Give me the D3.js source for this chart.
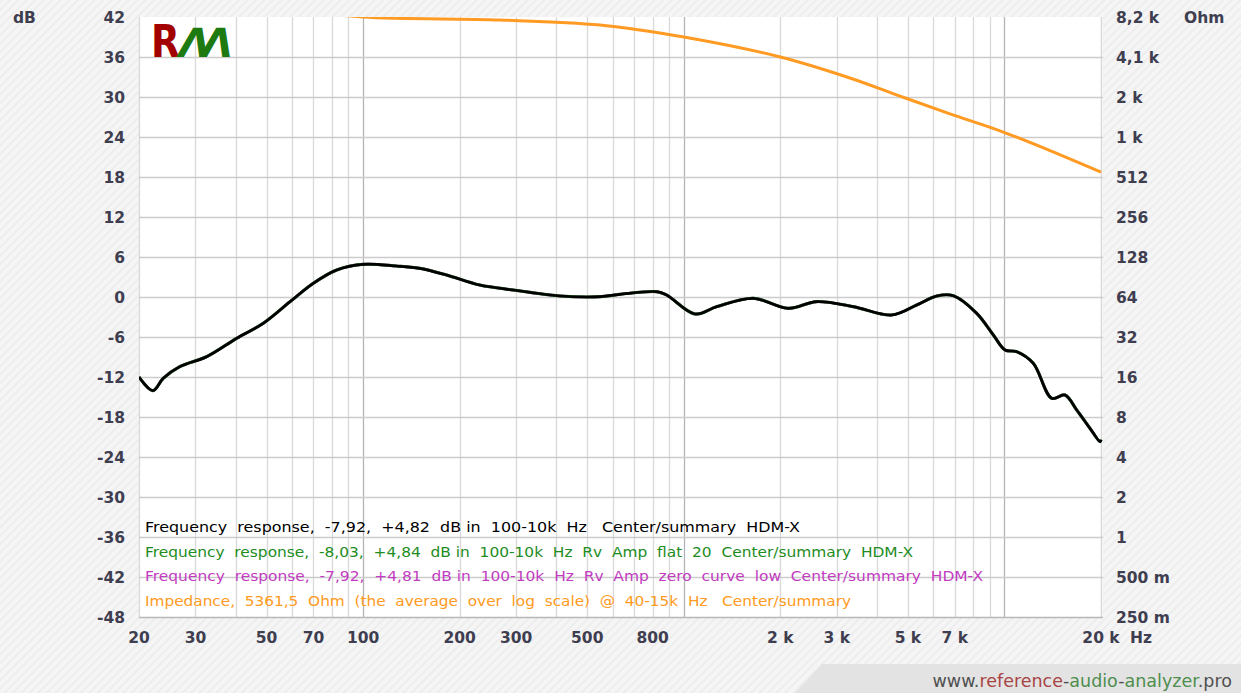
<!DOCTYPE html>
<html><head><meta charset="utf-8">
<script src="https://cdn.jsdelivr.net/npm/d3@7"></script>
<style>
html,body{margin:0;padding:0;background:#f3f3f3;}
svg{display:block;}
text{white-space:pre;}
</style></head>
<body>
<svg id="chart" width="1241" height="693"></svg>
<script>
// ---- data ----
const frFreq = [20, 22.1, 23.8, 26.8, 32.5, 40.3, 48.8, 59.2, 69.9, 82.7, 100, 127, 150, 182, 231, 294, 331, 411, 548, 632, 823, 884, 1084, 1267, 1647, 2118, 2596, 3378, 4450, 5326, 6148, 6924, 8192, 9232, 10040, 10920, 12300, 14040, 15440, 16800, 18480, 19860, 20000];
const frDb   = [-12.0, -14.05, -12.2, -10.45, -8.95, -6.2, -3.95, -0.7, 2.05, 4.05, 4.9, 4.65, 4.3, 3.3, 1.8, 1.05, 0.7, 0.15, 0.05, 0.4, 0.8, 0.3, -2.55, -1.45, -0.2, -1.7, -0.7, -1.45, -2.7, -1.2, 0.15, 0.2, -2.45, -5.7, -7.95, -8.2, -9.95, -15.2, -14.7, -16.95, -19.7, -21.7, -21.4];
const frDbGreen   = frDb;
const frDbMagenta = frDb;
const impFreq = [40, 60, 100, 267, 548, 1000, 2000, 3296, 4720, 6760, 9680, 13860, 20000];
const impOhm  = [10500, 9300, 8192, 7776, 7131, 5793, 4096, 2847, 2080, 1530, 1140, 810, 558];
const xTicks = [20, 30, 50, 70, 100, 200, 300, 500, 800, 2000, 3000, 5000, 7000, 20000];
const xTickLabels = ["20", "30", "50", "70", "100", "200", "300", "500", "800", "2 k", "3 k", "5 k", "7 k", "20 k"];
const dbTicks = [42, 36, 30, 24, 18, 12, 6, 0, -6, -12, -18, -24, -30, -36, -42, -48];
const ohmTicks = [8192, 4096, 2048, 1024, 512, 256, 128, 64, 32, 16, 8, 4, 2, 1, 0.5, 0.25];
const ohmTickLabels = ["8,2 k", "4,1 k", "2 k", "1 k", "512", "256", "128", "64", "32", "16", "8", "4", "2", "1", "500 m", "250 m"];
const legendTexts = [
  "Frequency  response,  -7,92,  +4,82  dB in  100-10k  Hz   Center/summary  HDM-X",
  "Frequency  response,  -8,03,  +4,84  dB in  100-10k  Hz  Rv  Amp  flat  20  Center/summary  HDM-X",
  "Frequency  response,  -7,92,  +4,81  dB in  100-10k  Hz  Rv  Amp  zero  curve  low  Center/summary  HDM-X",
  "Impedance,  5361,5  Ohm  (the  average  over  log  scale)  @  40-15k  Hz   Center/summary"
];
const legendColors = ["#000000", "#1e8c1e", "#c23cc2", "#ff9a22"];
const legendWidths = [655, 768, 838, 706];

// ---- drawing ----
const svg = d3.select("#chart");
const L = 139, R = 1101, T = 17, B = 617;
const x = d3.scaleLog().domain([20, 20000]).range([L, R]);
const y = d3.scaleLinear().domain([-48, 42]).range([B, T]);
const yR = d3.scaleLog().base(2).domain([0.25, 8192]).range([B, T]);

const defs = svg.append("defs");
const pat = defs.append("pattern").attr("id", "hatch").attr("width", 6).attr("height", 6)
  .attr("patternUnits", "userSpaceOnUse").attr("patternTransform", "rotate(45)");
pat.append("rect").attr("width", 6).attr("height", 6).attr("fill", "#f5f5f5");
pat.append("rect").attr("width", 2).attr("height", 6).attr("fill", "#ededed");
defs.append("clipPath").attr("id", "plotclip").append("rect")
  .attr("x", L).attr("y", T).attr("width", R - L + 2).attr("height", B - T);

svg.append("rect").attr("width", 1241).attr("height", 693).attr("fill", "url(#hatch)");
// footer band
svg.append("path").attr("d", "M822,664 L1241,664 L1241,693 L795,693 Z").attr("fill", "#e3e3e3");

svg.append("rect").attr("x", L).attr("y", T).attr("width", R - L + 2).attr("height", B - T).attr("fill", "#ffffff");

// grid
const grid = svg.append("g");
const vLines = [];
[10, 100, 1000, 10000].forEach(d => { for (let k = 1; k <= 9; k++) { const f = d * k; if (f >= 20 && f <= 20000) vLines.push(f); } });
vLines.push(20000);
grid.selectAll("line.v").data(vLines).join("line")
  .attr("x1", d => Math.round(x(d)) + 0.5).attr("x2", d => Math.round(x(d)) + 0.5)
  .attr("y1", T).attr("y2", B)
  .attr("stroke", d => (d === 100 || d === 1000 || d === 10000) ? "#b4b4b4" : "#d9d9d9")
  .attr("stroke-width", 1.3);
grid.selectAll("line.h").data(dbTicks.filter(d => d < 42)).join("line")
  .attr("x1", L).attr("x2", R + 2)
  .attr("y1", d => Math.round(y(d)) + 0.5).attr("y2", d => Math.round(y(d)) + 0.5)
  .attr("stroke", d => d === -48 ? "#b8b8b8" : "#cccccc").attr("stroke-width", 1.5);

// logo
const logo = svg.append("g");
logo.append("text").attr("x", 151).attr("y", 57).text("R")
  .attr("font-family", "DejaVu Sans").attr("font-weight", "bold").attr("font-size", 44)
  .attr("fill", "#a30000").attr("transform", "scale(0.85,1)").attr("transform-origin", "151 57");
logo.append("text").attr("x", 176).attr("y", 57).text("ΛΛ")
  .attr("font-family", "DejaVu Sans").attr("font-weight", "bold").attr("font-size", 40)
  .attr("fill", "#1c7a10").attr("letter-spacing", -8)
  .attr("transform", "skewX(-12)").attr("transform-origin", "176 57");

// legend text
const leg = svg.append("g");
legendTexts.forEach((t, i) => {
  leg.append("text").attr("x", 145).attr("y", 532 + i * 24.5).text(t)
    .attr("font-family", "DejaVu Sans").attr("font-size", 14)
    .attr("fill", legendColors[i])
    .attr("textLength", legendWidths[i]).attr("lengthAdjust", "spacingAndGlyphs");
});

// curves
const plot = svg.append("g").attr("clip-path", "url(#plotclip)");
const lineFr = d3.line().x(d => x(d[0])).y(d => y(d[1])).curve(d3.curveCatmullRom.alpha(0.5));
const lineImp = d3.line().x(d => x(d[0])).y(d => yR(d[1])).curve(d3.curveCatmullRom.alpha(0.5));
plot.append("path").attr("d", lineImp(d3.zip(impFreq, impOhm)))
  .attr("fill", "none").attr("stroke", "#ff9a22").attr("stroke-width", 3);
plot.append("path").attr("d", lineFr(d3.zip(frFreq, frDbMagenta)))
  .attr("fill", "none").attr("stroke", "#c23cc2").attr("stroke-width", 3);
plot.append("path").attr("d", lineFr(d3.zip(frFreq, frDbGreen)))
  .attr("fill", "none").attr("stroke", "#1e8c1e").attr("stroke-width", 3);
plot.append("path").attr("d", lineFr(d3.zip(frFreq, frDb)))
  .attr("fill", "none").attr("stroke", "#000000").attr("stroke-width", 2.7);

// axes labels
const lab = svg.append("g").attr("font-family", "DejaVu Sans").attr("font-weight", "bold")
  .attr("font-size", 15.5).attr("fill", "#3e3e50");
lab.selectAll("text.l").data(dbTicks).join("text")
  .attr("x", 125).attr("y", d => y(d)).attr("dy", "0.36em").attr("text-anchor", "end")
  .text(d => d);
lab.selectAll("text.r").data(ohmTicks).join("text")
  .attr("x", 1116).attr("y", d => yR(d)).attr("dy", "0.36em").attr("text-anchor", "start")
  .text((d, i) => ohmTickLabels[i]);
lab.selectAll("text.b").data(xTicks).join("text")
  .attr("x", d => x(d)).attr("y", 643).attr("text-anchor", "middle")
  .text((d, i) => xTickLabels[i]);
lab.append("text").attr("x", 1130).attr("y", 643).attr("text-anchor", "start").text("Hz");
lab.append("text").attr("x", 13).attr("y", T).attr("dy", "0.36em").text("dB");
lab.append("text").attr("x", 1184).attr("y", T).attr("dy", "0.36em").text("Ohm");

// footer url
const url = svg.append("text").attr("x", 1232).attr("y", 687).attr("text-anchor", "end")
  .attr("font-family", "DejaVu Sans").attr("font-size", 17.5);
[["www.", "#505050"], ["reference", "#a84444"], ["-", "#505050"], ["audio", "#4e8e4e"], ["-", "#505050"], ["analyzer", "#4e8e4e"], [".pro", "#505050"]]
  .forEach(p => url.append("tspan").attr("fill", p[1]).text(p[0]));
</script>
</body></html>
